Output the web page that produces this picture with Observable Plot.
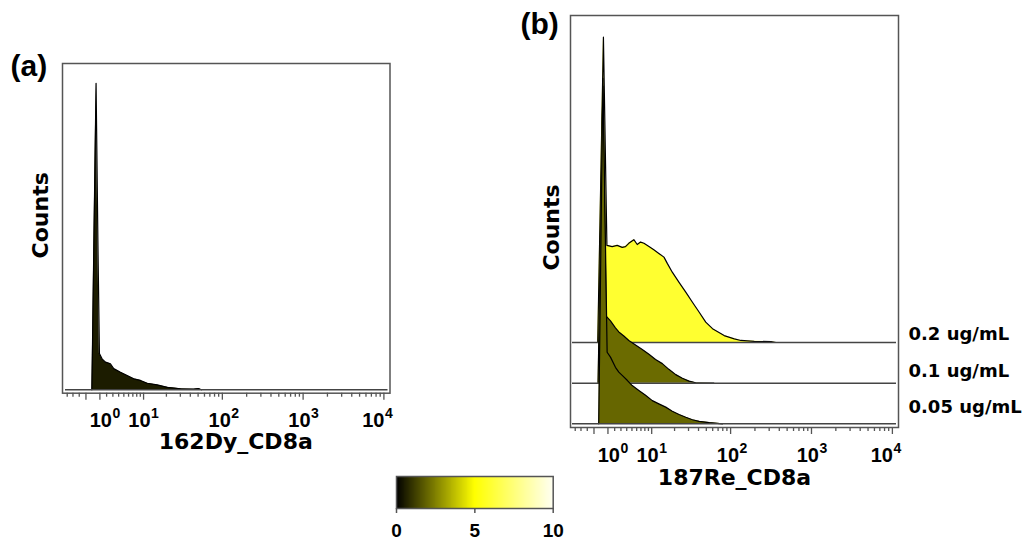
<!DOCTYPE html>
<html>
<head>
<meta charset="utf-8">
<script src="https://cdn.jsdelivr.net/npm/d3@7"></script>
<script src="https://cdn.jsdelivr.net/npm/@observablehq/plot@0.6"></script>
<style>
  html, body { margin: 0; padding: 0; background: #fff; }
  body { width: 1034px; height: 540px; position: relative; overflow: hidden; }
  .p { position: absolute; }
</style>
</head>
<body>
<div id="pa" class="p" style="left:0px;top:0px"></div>
<div id="pb" class="p" style="left:517px;top:0px"></div>
<div id="cb" class="p" style="left:386px;top:470px"></div>
<script>
// ---------------- data ----------------
// Panel (a): 162Dy_CD8a histogram (intensity, counts)
const aIntensity = [-0.15, -0.08, 0.14, 0.45, 0.71, 0.93, 1.32, 1.82, 2.60, 3.14, 4.34, 5.68, 7.22, 9.05, 11.2, 15.2, 20.5, 30.2, 44.3, 50.6, 55];
const aCounts    = [0, 84, 367, 754, 367, 89, 76, 68, 64, 52, 43, 35, 27, 23, 16, 12, 6, 2.5, 1.5, 3, 0];
const aLevel = 0.55;

// Panel (b): 187Re_CD8a histograms at three concentrations
const bLabels  = ["0.2 ug/mL", "0.1 ug/mL", "0.05 ug/mL"];
const bOffsets = [200, 100, 0];
const bLevels  = [6.0, 2.1, 2.0];

const b02Intensity = [-0.46, 0.35, 0.85, 1.62, 2.39, 3.21, 3.78, 4.39, 5.39, 6.13, 6.91, 7.76, 9.16, 10.7, 12.5, 14.6, 16.2, 18.7, 22.8, 27.7, 33.6, 40.6, 49.2, 59.7, 83.2, 111, 134, 196, 316, 364];
const b02Counts    = [0, 751, 239, 236, 239, 234, 236, 244, 253, 241, 247, 244, 236, 228, 219, 210, 194, 173, 148, 124, 99, 75, 50, 34, 17, 9, 5, 3, 2, 0];

const b01Intensity = [-0.41, 0.28, 0.74, 1.37, 2.12, 2.65, 3.49, 4.39, 5.75, 7.33, 9.16, 11.3, 13.9, 16.9, 20.7, 25.1, 30.4, 36.9, 62];
const b01Counts    = [0, 731, 165, 153, 136, 126, 116, 105, 94, 83, 71, 58, 48, 34, 21, 12, 5, 1, 0];

const b005Intensity = [-0.32, 0.28, 0.88, 1.37, 2.12, 2.65, 3.21, 4.09, 5.06, 6.50, 8.19, 10.2, 12.5, 15.4, 18.7, 22.8, 27.7, 33.6, 40.6, 54.1, 79.5];
const b005Counts    = [0, 850, 176, 164, 139, 127, 119, 107, 94, 82, 70, 57, 49, 41, 31, 23, 16, 10, 6, 3, 0];

// Axis ticks (arcsinh scale, cofactor 5)
const xDomainRaw = [-4.9, 11900];
const majorTicks = [-1, 1, 10, 100, 1000, 10000];
const minorTicks = [-4, -3, -2, 2, 3, 4, 5, 6, 7, 8, 9, 20, 30, 40, 50, 60, 70, 80, 90,
                    200, 300, 400, 500, 600, 700, 800, 900, 2000, 3000, 4000, 5000, 6000, 7000, 8000, 9000];
const labelTicks = [1, 10, 100, 1000, 10000];
const labelExponents = ["0", "1", "2", "3", "4"];

// Color bar
const colorTicks = [0, 5, 10];

// ---------------- styling ----------------
const FONT_A = "'Liberation Sans', Arial, sans-serif";
const FONT_B = "'DejaVu Sans', Verdana, sans-serif";
const GRAY = "#555";
const T = v => Math.asinh(v / 5);
const colorOpts = {type: "linear", domain: [0, 5, 10], range: ["#000000", "#ffff00", "#fffff2"], interpolate: "rgb"};
const labelShift = [12, 7, 8.5, 7.5, 0.5];

function axisMarks() {
  const marks = [
    Plot.axisX(majorTicks, {tickSize: 7, tickFormat: () => "", stroke: GRAY, strokeWidth: 1.3, label: null}),
    Plot.axisX(minorTicks, {tickSize: 4, tickFormat: () => "", stroke: GRAY, strokeWidth: 1.3, label: null})
  ];
  labelTicks.forEach((t, i) => {
    marks.push(Plot.text([t], {x: d => d, text: () => "10", frameAnchor: "bottom", textAnchor: "end",
      lineAnchor: "bottom", dx: labelShift[i], dy: 34, fontSize: 20, fontWeight: "bold", fontFamily: FONT_A}));
    marks.push(Plot.text([t], {x: d => d, text: () => labelExponents[i], frameAnchor: "bottom", textAnchor: "start",
      lineAnchor: "bottom", dx: labelShift[i] + 0.5, dy: 25, fontSize: 14, fontWeight: "bold", fontFamily: FONT_A}));
  });
  return marks;
}

// ---------------- panel (a) ----------------
const aData = aIntensity.map((x, i) => ({x, count: aCounts[i], level: aLevel}));
const plotA = Plot.plot({
  width: 520, height: 470,
  marginLeft: 62, marginTop: 63, marginRight: 130.5, marginBottom: 77.3,
  style: {background: "transparent", overflow: "visible"},
  x: {domain: xDomainRaw.map(T), transform: T, label: null},
  y: {domain: [-8.4, 802.7], axis: null},
  color: colorOpts,
  marks: [
    Plot.areaY(aData, {x: "x", y: "count", fill: "level"}),
    Plot.lineY(aData, {x: "x", y: "count", stroke: "#000", strokeWidth: 1.2}),
    Plot.ruleY([0], {stroke: "#444", strokeWidth: 1.5, insetLeft: 3, insetRight: 2}),
    Plot.frame({stroke: GRAY, strokeWidth: 1.5}),
    ...axisMarks(),
    Plot.text(["Counts"], {frameAnchor: "left", rotate: -90, textAnchor: "middle", lineAnchor: "bottom",
      dx: -15, dy: -13, fontSize: 22, fontWeight: "bold", fontFamily: FONT_B}),
    Plot.text(["162Dy_CD8a"], {frameAnchor: "bottom", textAnchor: "middle", lineAnchor: "bottom",
      dx: 9.5, dy: 56, fontSize: 22, fontWeight: "bold", fontFamily: FONT_B}),
    Plot.text(["(a)"], {frameAnchor: "top-left", textAnchor: "start", lineAnchor: "bottom",
      dx: -52, dy: 12, fontSize: 30, fontWeight: "bold", fontFamily: FONT_A})
  ]
});
document.getElementById("pa").appendChild(plotA);

// ---------------- panel (b) ----------------
const bSeries = [
  {x: b02Intensity, c: b02Counts},
  {x: b01Intensity, c: b01Counts},
  {x: b005Intensity, c: b005Counts}
];
const bMarks = [];
bSeries.forEach((s, k) => {
  const off = bOffsets[k];
  const rows = s.x.map((x, i) => ({x, base: off, top: off + s.c[i], level: bLevels[k]}));
  bMarks.push(Plot.areaY(rows, {x: "x", y1: "base", y2: "top", fill: "level"}));
  bMarks.push(Plot.lineY(rows, {x: "x", y: "top", stroke: "#000", strokeWidth: 1.2}));
  bMarks.push(Plot.ruleY([off], {stroke: "#444", strokeWidth: 1.5, insetLeft: 2, insetRight: 2}));
});
const seriesLabelDy = [-2, -6, -11];
bLabels.forEach((lab, k) => {
  bMarks.push(Plot.text([lab], {y: () => bOffsets[k], text: d => d, frameAnchor: "right", textAnchor: "start",
    lineAnchor: "bottom", dx: 10, dy: seriesLabelDy[k], fontSize: 18, fontWeight: "bold", fontFamily: FONT_B}));
});
const plotB = Plot.plot({
  width: 517, height: 500,
  marginLeft: 53, marginTop: 15, marginRight: 136, marginBottom: 73,
  style: {background: "transparent", overflow: "visible"},
  x: {domain: xDomainRaw.map(T), transform: T, label: null},
  y: {domain: [-9.1, 1004.4], axis: null},
  color: colorOpts,
  marks: [
    ...bMarks,
    Plot.frame({stroke: GRAY, strokeWidth: 1.5}),
    ...axisMarks(),
    Plot.text(["Counts"], {frameAnchor: "left", rotate: -90, textAnchor: "middle", lineAnchor: "bottom",
      dx: -12, dy: 6, fontSize: 22, fontWeight: "bold", fontFamily: FONT_B}),
    Plot.text(["187Re_CD8a"], {frameAnchor: "bottom", textAnchor: "middle", lineAnchor: "bottom",
      dx: 0, dy: 57, fontSize: 22, fontWeight: "bold", fontFamily: FONT_B}),
    Plot.text(["(b)"], {frameAnchor: "top-left", textAnchor: "start", lineAnchor: "bottom",
      dx: -50, dy: 18, fontSize: 30, fontWeight: "bold", fontFamily: FONT_A})
  ]
});
document.getElementById("pb").appendChild(plotB);

// ---------------- colour bar ----------------
const step = 0.02;
const gradient = d3.range(0, 10, step);
const plotC = Plot.plot({
  width: 180, height: 70,
  marginLeft: 10, marginRight: 13.3, marginTop: 6, marginBottom: 32,
  style: {background: "transparent", overflow: "visible"},
  x: {domain: [0, 10], label: null},
  y: {axis: null},
  color: colorOpts,
  marks: [
    Plot.rect(gradient, {x1: d => d, x2: d => Math.min(10, d + step * 2), fill: d => d, shapeRendering: "crispEdges"}),
    Plot.frame({stroke: GRAY, strokeWidth: 1.5}),
    Plot.axisX(colorTicks, {tickSize: 5, tickFormat: () => "", stroke: GRAY, strokeWidth: 1.5, label: null}),
    Plot.text(colorTicks, {x: d => d, text: d => String(d), frameAnchor: "bottom", textAnchor: "middle",
      lineAnchor: "bottom", dy: 28, fontSize: 19, fontWeight: "bold", fontFamily: FONT_A})
  ]
});
document.getElementById("cb").appendChild(plotC);
</script>
</body>
</html>
